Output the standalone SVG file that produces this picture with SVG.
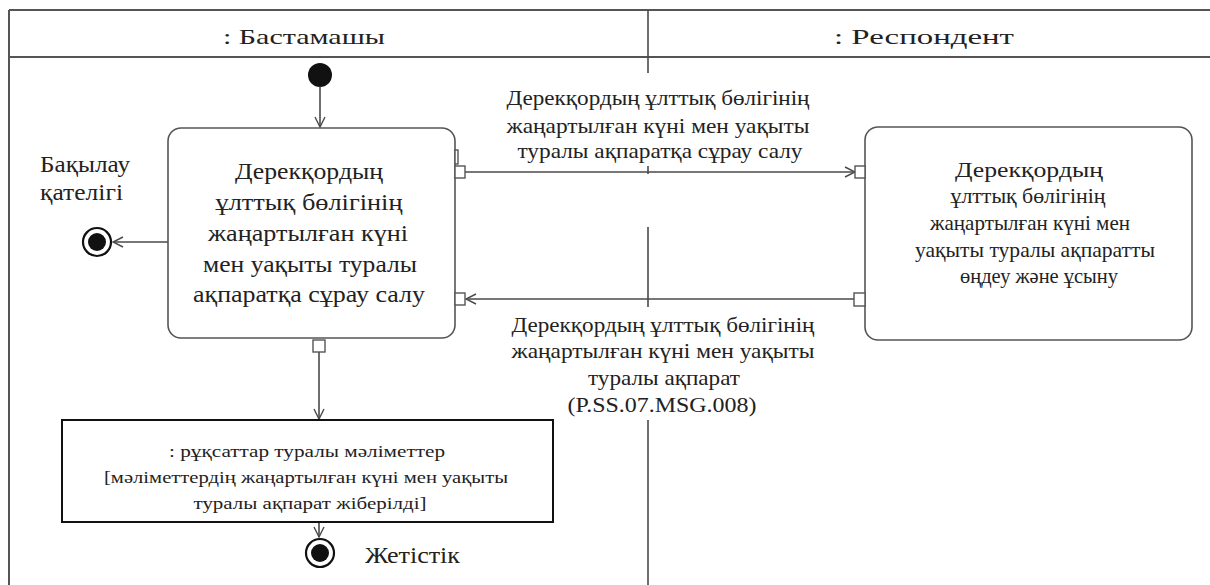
<svg xmlns="http://www.w3.org/2000/svg" width="1210" height="585" viewBox="0 0 1210 585">
<defs>
<style>
.ln{stroke:#4a4a4a;stroke-width:1.6;fill:none}
.frm{stroke:#555;stroke-width:2;fill:none}
.box{fill:#fff;stroke:#555;stroke-width:1.6}
.pin{fill:#fff;stroke:#555;stroke-width:1.4}
text{font-family:'Liberation Serif','DejaVu Serif','Times New Roman',serif;fill:#222;text-anchor:middle}
.big{font-size:23px}
.med{font-size:21px}
.sm{font-size:17px}
.hd{font-size:21px}
.st{text-anchor:start}
</style>
<marker id="arr" viewBox="0 0 12 12" refX="11" refY="6" markerWidth="12" markerHeight="12" markerUnits="userSpaceOnUse" orient="auto">
<path d="M1,1 L11,6 L1,11" fill="none" stroke="#4a4a4a" stroke-width="1.4"/>
</marker>
</defs>
<rect width="1210" height="585" fill="#fff"/>
<g id="frame">
<line class="frm" x1="9" y1="10" x2="1210" y2="10"/>
<line class="frm" x1="9" y1="57" x2="1210" y2="57"/>
<line class="frm" x1="9" y1="10" x2="9" y2="585"/>
<line class="ln" x1="648" y1="10" x2="648" y2="73"/>
<line class="ln" x1="648" y1="166" x2="648" y2="174"/>
<line class="ln" x1="648" y1="227" x2="648" y2="307"/>
<line class="ln" x1="648" y1="420" x2="648" y2="585"/>
<text class="hd" x="304" y="44" textLength="162" lengthAdjust="spacingAndGlyphs">: Бастамашы</text>
<text class="hd" x="924" y="44" textLength="180" lengthAdjust="spacingAndGlyphs">: Респондент</text>
</g>
<g id="connectors">
<line class="ln" x1="320" y1="87" x2="320" y2="127" marker-end="url(#arr)"/>
<line class="ln" x1="168" y1="242" x2="113" y2="242" marker-end="url(#arr)"/>
<line class="ln" x1="465" y1="172" x2="855" y2="172" marker-end="url(#arr)"/>
<line class="ln" x1="854" y1="299" x2="466" y2="299" marker-end="url(#arr)"/>
<line class="ln" x1="319" y1="352" x2="319" y2="419" marker-end="url(#arr)"/>
<line class="ln" x1="319" y1="523" x2="319" y2="537" marker-end="url(#arr)"/>
<text class="med" x="658" y="105" textLength="303" lengthAdjust="spacingAndGlyphs">Дерекқордың ұлттық бөлігінің</text>
<text class="med" x="658" y="133" textLength="303" lengthAdjust="spacingAndGlyphs">жаңартылған күні мен уақыты</text>
<text class="med" x="660" y="158" textLength="285" lengthAdjust="spacingAndGlyphs">туралы ақпаратқа сұрау салу</text>
<text class="med" x="663" y="332" textLength="303" lengthAdjust="spacingAndGlyphs">Дерекқордың ұлттық бөлігінің</text>
<text class="med" x="663" y="358" textLength="303" lengthAdjust="spacingAndGlyphs">жаңартылған күні мен уақыты</text>
<text class="med" x="664" y="385" textLength="152" lengthAdjust="spacingAndGlyphs">туралы ақпарат</text>
<text class="med" x="662" y="412" textLength="189" lengthAdjust="spacingAndGlyphs">(P.SS.07.MSG.008)</text>
</g>
<g id="initial">
<circle cx="320" cy="75" r="12" fill="#111"/>
</g>
<g id="request">
<rect class="box" x="168" y="128" width="287" height="210" rx="13"/>
<text class="big" x="309" y="179" textLength="148" lengthAdjust="spacingAndGlyphs">Дерекқордың</text>
<text class="big" x="309" y="210" textLength="187" lengthAdjust="spacingAndGlyphs">ұлттық бөлігінің</text>
<text class="big" x="308" y="241" textLength="200" lengthAdjust="spacingAndGlyphs">жаңартылған күні</text>
<text class="big" x="310" y="272" textLength="214" lengthAdjust="spacingAndGlyphs">мен уақыты туралы</text>
<text class="big" x="309" y="302" textLength="232" lengthAdjust="spacingAndGlyphs">ақпаратқа сұрау салу</text>
<rect class="pin" x="455" y="150" width="3" height="14"/>
<rect class="pin" x="455" y="166" width="10" height="12"/>
<rect class="pin" x="455" y="293" width="10" height="12"/>
<rect class="pin" x="313" y="340" width="12" height="12"/>
</g>
<g id="process">
<rect class="box" x="865" y="127" width="327" height="213" rx="13"/>
<text class="med" x="1029" y="177" textLength="148" lengthAdjust="spacingAndGlyphs">Дерекқордың</text>
<text class="med" x="1028" y="203" textLength="155" lengthAdjust="spacingAndGlyphs">ұлттық бөлігінің</text>
<text class="med" x="1030" y="230" textLength="200" lengthAdjust="spacingAndGlyphs">жаңартылған күні мен</text>
<text class="med" x="1035" y="257" textLength="240" lengthAdjust="spacingAndGlyphs">уақыты туралы ақпаратты</text>
<text class="med" x="1039" y="283" textLength="158" lengthAdjust="spacingAndGlyphs">өңдеу және ұсыну</text>
<rect class="pin" x="855" y="166" width="10" height="12"/>
<rect class="pin" x="854" y="293" width="11" height="13"/>
</g>
<g id="error">
<circle cx="97" cy="242" r="14" fill="#fff" stroke="#111" stroke-width="2.2"/>
<circle cx="97" cy="242" r="9" fill="#111"/>
<text class="big st" x="40" y="172" textLength="90" lengthAdjust="spacingAndGlyphs">Бақылау</text>
<text class="big st" x="40" y="200" textLength="83" lengthAdjust="spacingAndGlyphs">қателігі</text>
</g>
<g id="object">
<rect x="62" y="420" width="491" height="102" fill="#fff" stroke="#111" stroke-width="2"/>
<text class="sm" x="307" y="457" textLength="276" lengthAdjust="spacingAndGlyphs">: рұқсаттар туралы мәліметтер</text>
<text class="sm" x="306" y="483" textLength="404" lengthAdjust="spacingAndGlyphs">[мәліметтердің жаңартылған  күні мен уақыты</text>
<text class="sm" x="310" y="509" textLength="233" lengthAdjust="spacingAndGlyphs">туралы  ақпарат  жіберілді]</text>
</g>
<g id="success">
<circle cx="320" cy="553" r="14" fill="#fff" stroke="#111" stroke-width="2.2"/>
<circle cx="320" cy="553" r="9" fill="#111"/>
<text class="big st" x="365" y="563" textLength="95" lengthAdjust="spacingAndGlyphs">Жетістік</text>
</g>
</svg>
